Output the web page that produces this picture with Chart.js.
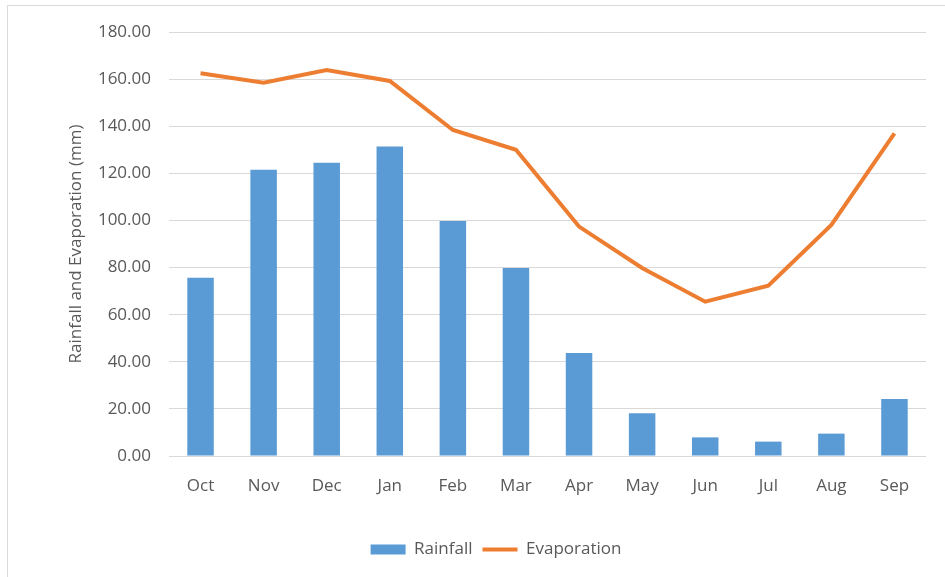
<!DOCTYPE html>
<html>
<head>
<meta charset="utf-8">
<script src="https://cdn.jsdelivr.net/npm/chart.js@4"></script>
<style>
  html, body { margin: 0; padding: 0; background: #fff; }
  body { width: 945px; height: 577px; position: relative; overflow: hidden; }
  .frame { position: absolute; left: 7px; top: 5px; width: 960px; height: 600px; border: 1px solid #d9d9d9; }
  #chart { position: absolute; left: 0; top: 0; }
</style>
</head>
<body>
<div class="frame"></div>
<canvas id="chart" width="945" height="577"></canvas>
<script>
const months = ['Oct', 'Nov', 'Dec', 'Jan', 'Feb', 'Mar', 'Apr', 'May', 'Jun', 'Jul', 'Aug', 'Sep'];
const rainfall = [75.7, 121.5, 124.5, 131.4, 99.8, 79.8, 43.7, 18.2, 7.9, 6.1, 9.5, 24.2];
const evaporation = [162.5, 158.5, 163.9, 159.2, 138.4, 130.0, 97.4, 79.8, 65.5, 72.3, 98.1, 137.0];

const textColor = '#595959';
const font = { family: '"Open Sans", sans-serif', size: 17 };

new Chart(document.getElementById('chart'), {
    data: {
        labels: months,
        datasets: [{
            type: 'bar',
            label: 'Rainfall',
            data: rainfall,
            backgroundColor: '#5b9bd5',
            categoryPercentage: 1,
            barPercentage: 0.42,
            pointStyle: 'rect',
        }, {
            type: 'line',
            label: 'Evaporation',
            data: evaporation,
            borderColor: '#ed7d31',
            backgroundColor: '#ed7d31',
            borderWidth: 4,
            tension: 0,
            pointRadius: 0,
            pointStyle: 'line',
        }]
    },
    options: {
        responsive: false,
        animation: false,
        layout: { padding: { left: 66, right: 19, top: 32, bottom: 9 } },
        plugins: {
            tooltip: { enabled: false },
            legend: {
                position: 'bottom',
                labels: {
                    usePointStyle: true,
                    pointStyleWidth: 35,
                    boxWidth: 35,
                    boxHeight: 10,
                    color: textColor,
                    font: font,
                    padding: 10,
                }
            }
        },
        scales: {
            x: {
                grid: { display: false },
                border: { display: false },
                ticks: { color: textColor, font: font, padding: 12 },
                afterFit: scale => { scale.height = 75; }
            },
            y: {
                min: 0,
                max: 180,
                ticks: {
                    stepSize: 20,
                    color: textColor,
                    font: font,
                    padding: 18,
                    callback: v => v.toFixed(2)
                },
                grid: { color: '#d9d9d9', lineWidth: 1, drawTicks: false },
                border: { display: false },
                title: {
                    display: true,
                    text: 'Rainfall and Evaporation (mm)',
                    color: textColor,
                    font: font,
                    padding: 0
                },
                afterFit: scale => { scale.width = 103; }
            }
        }
    }
});
</script>
</body>
</html>
